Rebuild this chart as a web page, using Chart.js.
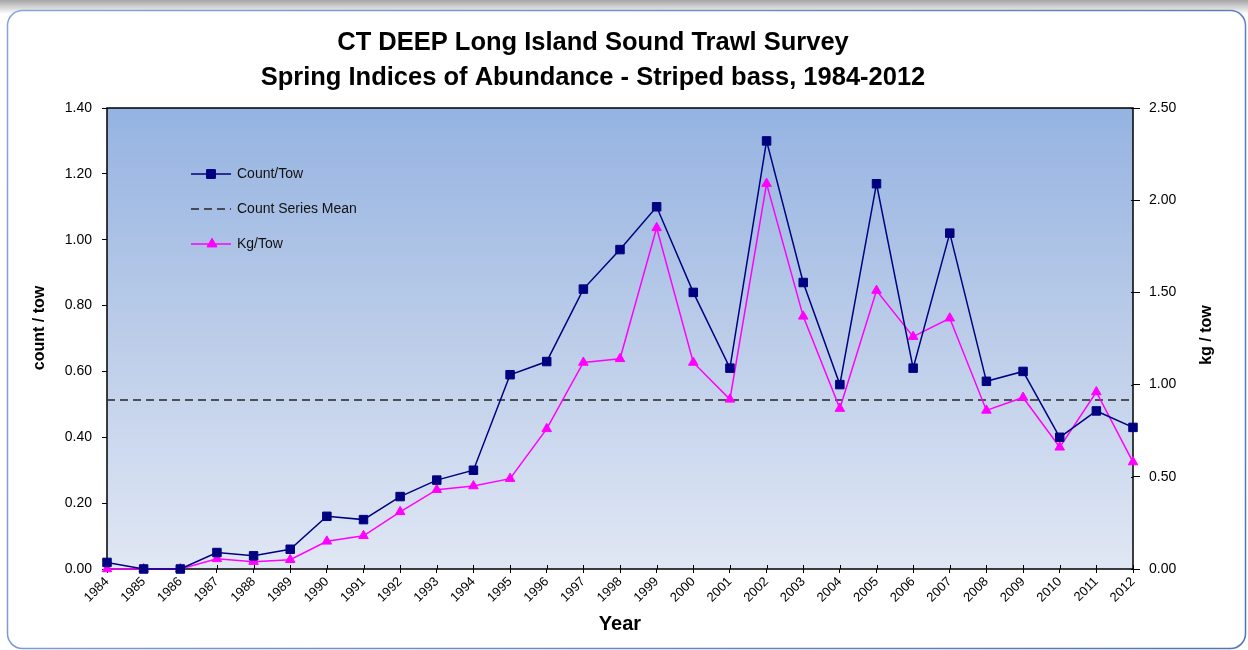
<!DOCTYPE html>
<html><head><meta charset="utf-8">
<script src="https://cdn.jsdelivr.net/npm/chart.js@4.4.0/dist/chart.umd.min.js"></script>
<style>html,body{margin:0;padding:0;background:#fff;}#wrap{width:1248px;height:650px;}</style>
</head><body><div id="wrap"><canvas id="c" width="1248" height="650"></canvas></div>
<script>
const years = ['1984','1985','1986','1987','1988','1989','1990','1991','1992','1993','1994','1995','1996','1997','1998','1999','2000','2001','2002','2003','2004','2005','2006','2007','2008','2009','2010','2011','2012'];
const countPerTow = [0.02,0.00,0.00,0.05,0.04,0.06,0.16,0.15,0.22,0.27,0.30,0.59,0.63,0.85,0.97,1.10,0.84,0.61,1.30,0.87,0.56,1.17,0.61,1.02,0.57,0.60,0.40,0.48,0.43];
const kgPerTow = [0.00,0.00,0.00,0.055,0.04,0.05,0.15,0.18,0.31,0.43,0.45,0.49,0.76,1.12,1.14,1.85,1.12,0.92,2.09,1.37,0.87,1.51,1.26,1.36,0.86,0.93,0.66,0.96,0.58];
const countSeriesMean = [0.513,0.513,0.513,0.513,0.513,0.513,0.513,0.513,0.513,0.513,0.513,0.513,0.513,0.513,0.513,0.513,0.513,0.513,0.513,0.513,0.513,0.513,0.513,0.513,0.513,0.513,0.513,0.513,0.513];
const leftAxisMax = 1.4, leftAxisStep = 0.2;
const rightAxisMax = 2.5, rightAxisStep = 0.5;
const titleLines = ['CT DEEP Long Island Sound Trawl Survey','Spring Indices of Abundance - Striped bass, 1984-2012'];
const seriesNames = ['Count/Tow','Count Series Mean','Kg/Tow'];
const axisTitles = {x: 'Year', left: 'count / tow', right: 'kg / tow'};

const FONT = "'Liberation Sans',sans-serif";
const NAVY = '#000080', MAG = '#FF00FF', MEAN = '#262626';

const framePlugin = {
  id: 'frame',
  beforeDraw(chart) {
    const ctx = chart.ctx, W = chart.width, H = chart.height, a = chart.chartArea;
    ctx.save();
    ctx.fillStyle = '#fff'; ctx.fillRect(0, 0, W, H);
    const sg = ctx.createLinearGradient(0, 0, 0, 14);
    sg.addColorStop(0, '#a5a5a5'); sg.addColorStop(1, '#ffffff');
    ctx.fillStyle = sg; ctx.fillRect(0, 0, W, 14);
    ctx.beginPath();
    ctx.roundRect(7.5, 10.5, 1238, 638, 15);
    ctx.fillStyle = '#fff'; ctx.fill();
    const bg = ctx.createLinearGradient(0, 0, W, H);
    bg.addColorStop(0, '#86a6dc'); bg.addColorStop(1, '#4f74b8');
    ctx.strokeStyle = bg; ctx.lineWidth = 1.5; ctx.stroke();
    const g = ctx.createLinearGradient(0, a.top, 0, a.bottom);
    g.addColorStop(0, '#95b3e1'); g.addColorStop(0.5, '#bccde9'); g.addColorStop(1, '#e0e7f4');
    ctx.fillStyle = g; ctx.fillRect(a.left, a.top, a.right - a.left, a.bottom - a.top);
    ctx.restore();
  },
  beforeDatasetsDraw(chart) {
    const ctx = chart.ctx, a = chart.chartArea;
    ctx.save();
    ctx.strokeStyle = '#000'; ctx.lineWidth = 1.5;
    ctx.strokeRect(a.left, a.top, a.right - a.left, a.bottom - a.top);
    ctx.lineWidth = 1;
    const xs = chart.scales.x;
    for (let i = 0; i < years.length; i++) {
      const px = Math.round(xs.getPixelForTick(i)) + 0.5;
      ctx.beginPath(); ctx.moveTo(px, a.bottom - 4); ctx.lineTo(px, a.bottom); ctx.stroke();
    }
    const yr = chart.scales.y2;
    yr.ticks.forEach((t, i) => {
      const py = Math.round(yr.getPixelForTick(i)) + 0.5;
      ctx.beginPath(); ctx.moveTo(a.right - 2, py); ctx.lineTo(a.right, py); ctx.stroke();
    });
    ctx.restore();
  },
  afterDraw(chart) {
    const ctx = chart.ctx;
    ctx.save();
    ctx.font = "bold 25.5px " + FONT; ctx.fillStyle = '#000';
    ctx.textAlign = 'center'; ctx.textBaseline = 'middle';
    ctx.fillText(titleLines[0], 593, 43);
    ctx.fillText(titleLines[1], 593, 78);
    ctx.restore();
    ctx.save();
    ctx.font = "bold 16px " + FONT; ctx.fillStyle = '#000';
    ctx.textAlign = 'center'; ctx.textBaseline = 'middle';
    ctx.translate(40, 328); ctx.rotate(-Math.PI / 2);
    ctx.fillText(axisTitles.left, 0, 0);
    ctx.restore();
    ctx.save();
    ctx.font = "bold 16px " + FONT; ctx.fillStyle = '#000';
    ctx.textAlign = 'center'; ctx.textBaseline = 'middle';
    ctx.translate(1207, 335); ctx.rotate(-Math.PI / 2);
    ctx.fillText(axisTitles.right, 0, 0);
    ctx.restore();
    ctx.save();
    const lx = 191, rows = [174, 209, 244];
    ctx.font = "14px " + FONT; ctx.textBaseline = 'middle'; ctx.textAlign = 'left';
    ctx.strokeStyle = NAVY; ctx.lineWidth = 1.5;
    ctx.beginPath(); ctx.moveTo(lx, rows[0]); ctx.lineTo(lx + 40, rows[0]); ctx.stroke();
    ctx.fillStyle = NAVY; ctx.lineWidth = 1;
    Chart.helpers.drawPoint(ctx, {pointStyle: 'rect', radius: 6, borderWidth: 1}, lx + 20, rows[0]);
    ctx.fill(); ctx.stroke();
    ctx.strokeStyle = MEAN; ctx.lineWidth = 1.5; ctx.setLineDash([8, 5]);
    ctx.beginPath(); ctx.moveTo(lx, rows[1]); ctx.lineTo(lx + 40, rows[1]); ctx.stroke();
    ctx.setLineDash([]);
    ctx.strokeStyle = MAG; ctx.fillStyle = MAG;
    ctx.beginPath(); ctx.moveTo(lx, rows[2]); ctx.lineTo(lx + 40, rows[2]); ctx.stroke();
    ctx.lineWidth = 1;
    Chart.helpers.drawPoint(ctx, {pointStyle: 'triangle', radius: 5.5, borderWidth: 1}, lx + 21, rows[2]);
    ctx.fill(); ctx.stroke();
    ctx.fillStyle = '#111';
    seriesNames.forEach((n, i) => ctx.fillText(n, lx + 46, rows[i]));
    ctx.restore();
  }
};

new Chart(document.getElementById('c'), {
  type: 'line',
  data: {
    labels: years,
    datasets: [
      {label: seriesNames[0], data: countPerTow, yAxisID: 'y', borderColor: NAVY, backgroundColor: NAVY,
       borderWidth: 1.5, pointStyle: 'rect', pointRadius: 6, pointBorderWidth: 1, tension: 0, clip: false, order: 1},
      {label: seriesNames[1], data: countSeriesMean, yAxisID: 'y', borderColor: MEAN, borderDash: [8, 5],
       borderWidth: 1.5, pointRadius: 0, tension: 0, clip: false, order: 3},
      {label: seriesNames[2], data: kgPerTow, yAxisID: 'y2', borderColor: MAG, backgroundColor: MAG,
       borderWidth: 1.5, pointStyle: 'triangle', pointRadius: 5.5, pointBorderWidth: 1, tension: 0, clip: false, order: 2}
    ]
  },
  options: {
    responsive: false, animation: false, devicePixelRatio: 1,
    layout: {padding: {top: 108, left: 0, right: 0, bottom: 0}},
    plugins: {
      legend: {display: false},
      tooltip: {enabled: false},
      title: {display: false}
    },
    scales: {
      x: {
        offset: false,
        grid: {display: true, drawOnChartArea: false, drawTicks: true, tickLength: 4, color: '#000'},
        border: {display: false},
        ticks: {minRotation: 45, maxRotation: 45, autoSkip: false, color: '#000', padding: 1,
          font: {family: FONT, size: 13}},
        title: {display: true, text: axisTitles.x, color: '#000', font: {family: FONT, size: 20, weight: 'bold', lineHeight: 1.2},
          padding: {top: 0, bottom: 14}},
        afterFit(s) { s.height = 81; }
      },
      y: {
        position: 'left', min: 0, max: leftAxisMax,
        grid: {display: true, drawOnChartArea: false, drawTicks: true, tickLength: 5, color: '#000'},
        border: {display: false},
        ticks: {stepSize: leftAxisStep, color: '#000', padding: 10, font: {family: FONT, size: 14},
          callback: v => Number(v).toFixed(2)},
        afterFit(s) { s.width = 107; }
      },
      y2: {
        position: 'right', min: 0, max: rightAxisMax,
        grid: {display: true, drawOnChartArea: false, drawTicks: true, tickLength: 7, color: '#000'},
        border: {display: false},
        ticks: {stepSize: rightAxisStep, color: '#000', padding: 9, font: {family: FONT, size: 14},
          callback: v => Number(v).toFixed(2)},
        afterFit(s) { s.width = 115; }
      }
    }
  },
  plugins: [framePlugin]
});
</script></body></html>
